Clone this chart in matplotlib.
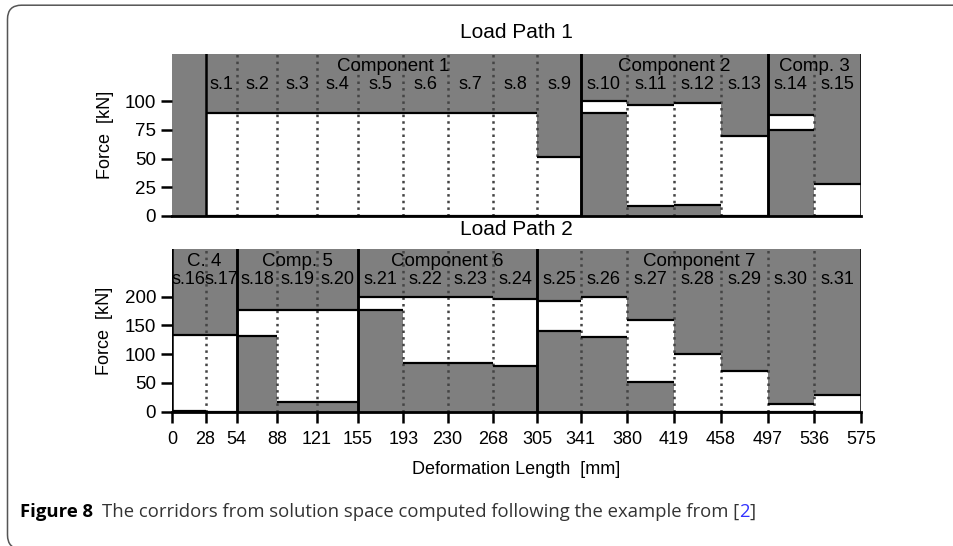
import matplotlib
matplotlib.use("Agg")
import matplotlib.pyplot as plt
from matplotlib.patches import Rectangle, FancyBboxPatch
from matplotlib.transforms import IdentityTransform

plt.rcParams['font.family'] = ['Liberation Sans', 'DejaVu Sans']

# ===== Data =====
# boundaries of the segments along the deformation length [mm]
edges = [0, 28, 54, 88, 121, 155, 193, 230, 268, 305, 341, 380, 419, 458, 497, 536, 575]

# Load path 1: segments s.1 .. s.15 (28 mm .. 575 mm)
lp1_lower = [0, 0, 0, 0, 0, 0, 0, 0, 0, 90, 9, 10, 0, 75, 0]
lp1_upper = [90, 90, 90, 90, 90, 90, 90, 90, 51, 100, 97, 98, 70, 88, 28]
lp1_components = [("Component 1", 1, 9), ("Component 2", 10, 13), ("Comp. 3", 14, 15)]

# Load path 2: segments s.16 .. s.31 (0 mm .. 575 mm)
lp2_lower = [1, 0, 131, 17, 17, 177, 84, 84, 80, 140, 130, 51, 0, 0, 0, 0]
lp2_upper = [133, 133, 177, 177, 177, 200, 200, 200, 196, 192, 200, 159, 100, 71, 14, 29]
lp2_components = [("C. 4", 16, 17), ("Comp. 5", 18, 20), ("Component 6", 21, 24), ("Component 7", 25, 31)]

GRAY = "#7f7f7f"


def draw_path(ax, seg_edges, lower, upper, first_seg, components, ymax, yticks):
    ax.set_xlim(0, 575)
    ax.set_ylim(0, ymax)
    ax.set_facecolor(GRAY)

    # corridors (white) with black bounds
    for i in range(len(lower)):
        x0, x1 = seg_edges[i], seg_edges[i + 1]
        ax.add_patch(Rectangle((x0, lower[i]), x1 - x0, upper[i] - lower[i],
                               facecolor="white", edgecolor="none", zorder=1))
        for yv in (lower[i], upper[i]):
            ax.plot([x0, x1], [yv, yv], color="black", lw=1.6,
                    solid_capstyle="butt", zorder=3)

    for name, first, last in components:
        i0, i1 = first - first_seg, last - first_seg
        xs, xe = seg_edges[i0], seg_edges[i1 + 1]
        # solid borders of the component
        for xv in (xs, xe):
            ax.axvline(xv, color="black", lw=1.8, zorder=4)
        # dotted borders between its segments
        for i in range(i0 + 1, i1 + 1):
            ax.axvline(seg_edges[i], color="#444444", lw=1.8, ls=":", zorder=2)
        ax.text((xs + xe) / 2, 0.925, name, transform=ax.get_xaxis_transform(),
                ha="center", va="center", fontsize=13.5, zorder=5)
        for i in range(i0, i1 + 1):
            ax.text((seg_edges[i] + seg_edges[i + 1]) / 2, 0.815, "s.%d" % (i + first_seg),
                    transform=ax.get_xaxis_transform(), ha="center", va="center",
                    fontsize=13, zorder=5)

    ax.set_yticks(yticks)
    ax.set_ylabel("Force  [kN]", fontsize=13, labelpad=8)
    for s in ("top", "right", "left"):
        ax.spines[s].set_visible(False)
    ax.spines["bottom"].set_linewidth(2)
    ax.spines["bottom"].set_zorder(6)
    ax.tick_params(axis="y", direction="out", length=8, width=1.8, labelsize=13.5)


# ===== Plot =====
fig = plt.figure(figsize=(9.54, 5.46), dpi=100)
ax1 = fig.add_axes([0.1803, 0.6044, 0.7222, 0.2958])
ax2 = fig.add_axes([0.1803, 0.2460, 0.7222, 0.2974])

draw_path(ax1, edges[1:], lp1_lower, lp1_upper, 1, lp1_components, 140.6, [0, 25, 50, 75, 100])
draw_path(ax2, edges, lp2_lower, lp2_upper, 16, lp2_components, 282, [0, 50, 100, 150, 200])

ax1.set_xticks([])
ax1.set_title("Load Path 1", fontsize=15, pad=12)
ax2.set_title("Load Path 2", fontsize=15, pad=10)

ax2.set_xticks(edges)
ax2.set_xticklabels([str(e) for e in edges])
ax2.tick_params(axis="x", direction="out", length=8, width=1.8, labelsize=13, pad=6)
ax2.set_xlabel("Deformation Length  [mm]", fontsize=13, labelpad=9)

# rounded frame around the figure
fig.patches.append(FancyBboxPatch((7.5, -3), 980, 545.5 - 4.7 + 3,
                                  boxstyle="round,pad=0,rounding_size=14",
                                  transform=IdentityTransform(), facecolor="none",
                                  edgecolor="#555555", lw=1.1, figure=fig))

# caption
cap_y = (546 - 512) / 546
t1 = fig.text(20 / 954, cap_y, "Figure 8", fontweight="bold", fontsize=13.3,
              family=["Open Sans", "DejaVu Sans"], va="center")
fig.canvas.draw()
renderer = fig.canvas.get_renderer()
x = t1.get_window_extent(renderer).x1 + 9
parts = [("The corridors from solution space computed following the example from [", "#333333"),
         ("2", "#3333ff"), ("]", "#333333")]
for txt, col in parts:
    t = fig.text(x / 954, cap_y, txt, fontsize=13.3, color=col,
                 family=["Open Sans", "DejaVu Sans"], va="center")
    x = t.get_window_extent(renderer).x1

fig.savefig("out.png", dpi=100)
